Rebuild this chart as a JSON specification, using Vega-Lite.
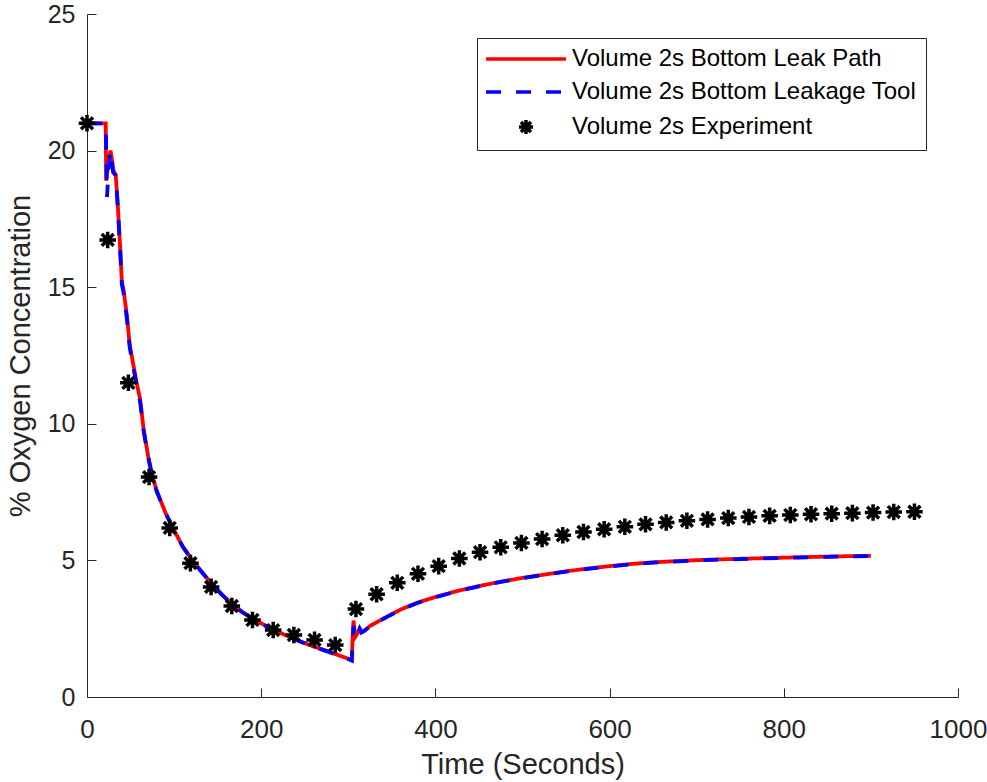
{
  "$schema": "https://vega.github.io/schema/vega-lite/v6.json",
  "width": 871,
  "height": 683,
  "autosize": {"type": "none"},
  "padding": {"left": 87, "top": 14, "right": 29, "bottom": 85},
  "config": {
    "view": {"stroke": null},
    "font": "Liberation Sans",
    "axis": {
      "grid": false,
      "domainColor": "#262626",
      "domainWidth": 1,
      "tickColor": "#262626",
      "tickWidth": 1,
      "tickSize": -9,
      "labelColor": "#262626",
      "labelFont": "Liberation Sans",
      "titleFont": "Liberation Sans",
      "titleFontSize": 29,
      "titleColor": "#262626",
      "titleFontWeight": "normal",
      "labelFlush": false,
      "labelOverlap": false
    },
    "legend": {
      "orient": "none",
      "legendX": 390,
      "legendY": 24,
      "title": null,
      "labelFontSize": 24,
      "labelFont": "Liberation Sans",
      "labelColor": "#000000",
      "fillColor": "#ffffff",
      "strokeColor": "#262626",
      "padding": 9,
      "rowPadding": 9,
      "symbolSize": 400,
      "symbolStrokeWidth": 3.5,
      "symbolOffset": 28,
      "labelOffset": 34,
      "labelLimit": 600
    }
  },
  "datasets": {
    "sim": [
      {"series": "Volume 2s Bottom Leak Path", "t": 0, "v": 21.0},
      {"series": "Volume 2s Bottom Leak Path", "t": 21.5, "v": 21.0},
      {"series": "Volume 2s Bottom Leak Path", "t": 22, "v": 18.9},
      {"series": "Volume 2s Bottom Leak Path", "t": 24, "v": 19.4},
      {"series": "Volume 2s Bottom Leak Path", "t": 27, "v": 20.0},
      {"series": "Volume 2s Bottom Leak Path", "t": 29, "v": 19.6},
      {"series": "Volume 2s Bottom Leak Path", "t": 30, "v": 19.3},
      {"series": "Volume 2s Bottom Leak Path", "t": 33, "v": 19.1},
      {"series": "Volume 2s Bottom Leak Path", "t": 35, "v": 18.2},
      {"series": "Volume 2s Bottom Leak Path", "t": 38, "v": 16.5},
      {"series": "Volume 2s Bottom Leak Path", "t": 40, "v": 15.2},
      {"series": "Volume 2s Bottom Leak Path", "t": 42, "v": 14.9},
      {"series": "Volume 2s Bottom Leak Path", "t": 46, "v": 13.9},
      {"series": "Volume 2s Bottom Leak Path", "t": 49, "v": 12.9},
      {"series": "Volume 2s Bottom Leak Path", "t": 53, "v": 12.2},
      {"series": "Volume 2s Bottom Leak Path", "t": 57, "v": 11.5},
      {"series": "Volume 2s Bottom Leak Path", "t": 61, "v": 10.9},
      {"series": "Volume 2s Bottom Leak Path", "t": 65, "v": 9.8},
      {"series": "Volume 2s Bottom Leak Path", "t": 70, "v": 8.85},
      {"series": "Volume 2s Bottom Leak Path", "t": 75, "v": 8.1},
      {"series": "Volume 2s Bottom Leak Path", "t": 80, "v": 7.55},
      {"series": "Volume 2s Bottom Leak Path", "t": 90, "v": 6.75},
      {"series": "Volume 2s Bottom Leak Path", "t": 100, "v": 6.1},
      {"series": "Volume 2s Bottom Leak Path", "t": 110, "v": 5.5},
      {"series": "Volume 2s Bottom Leak Path", "t": 120, "v": 5.05},
      {"series": "Volume 2s Bottom Leak Path", "t": 130, "v": 4.65},
      {"series": "Volume 2s Bottom Leak Path", "t": 143, "v": 4.15},
      {"series": "Volume 2s Bottom Leak Path", "t": 155, "v": 3.75},
      {"series": "Volume 2s Bottom Leak Path", "t": 166, "v": 3.42},
      {"series": "Volume 2s Bottom Leak Path", "t": 178, "v": 3.12},
      {"series": "Volume 2s Bottom Leak Path", "t": 190, "v": 2.87},
      {"series": "Volume 2s Bottom Leak Path", "t": 202, "v": 2.66},
      {"series": "Volume 2s Bottom Leak Path", "t": 214, "v": 2.47},
      {"series": "Volume 2s Bottom Leak Path", "t": 226, "v": 2.29},
      {"series": "Volume 2s Bottom Leak Path", "t": 241, "v": 2.09},
      {"series": "Volume 2s Bottom Leak Path", "t": 253, "v": 1.93},
      {"series": "Volume 2s Bottom Leak Path", "t": 262, "v": 1.83},
      {"series": "Volume 2s Bottom Leak Path", "t": 274, "v": 1.7},
      {"series": "Volume 2s Bottom Leak Path", "t": 285, "v": 1.57},
      {"series": "Volume 2s Bottom Leak Path", "t": 295, "v": 1.46},
      {"series": "Volume 2s Bottom Leak Path", "t": 304, "v": 1.35},
      {"series": "Volume 2s Bottom Leak Path", "t": 305, "v": 2.2},
      {"series": "Volume 2s Bottom Leak Path", "t": 306, "v": 2.8},
      {"series": "Volume 2s Bottom Leak Path", "t": 307, "v": 2.45},
      {"series": "Volume 2s Bottom Leak Path", "t": 308, "v": 2.2},
      {"series": "Volume 2s Bottom Leak Path", "t": 311, "v": 2.35},
      {"series": "Volume 2s Bottom Leak Path", "t": 313, "v": 2.5},
      {"series": "Volume 2s Bottom Leak Path", "t": 315, "v": 2.38},
      {"series": "Volume 2s Bottom Leak Path", "t": 318, "v": 2.42},
      {"series": "Volume 2s Bottom Leak Path", "t": 325, "v": 2.6},
      {"series": "Volume 2s Bottom Leak Path", "t": 335, "v": 2.78},
      {"series": "Volume 2s Bottom Leak Path", "t": 345, "v": 2.95},
      {"series": "Volume 2s Bottom Leak Path", "t": 360, "v": 3.2},
      {"series": "Volume 2s Bottom Leak Path", "t": 380, "v": 3.46},
      {"series": "Volume 2s Bottom Leak Path", "t": 400, "v": 3.66},
      {"series": "Volume 2s Bottom Leak Path", "t": 425, "v": 3.88},
      {"series": "Volume 2s Bottom Leak Path", "t": 450, "v": 4.06},
      {"series": "Volume 2s Bottom Leak Path", "t": 475, "v": 4.22},
      {"series": "Volume 2s Bottom Leak Path", "t": 500, "v": 4.36},
      {"series": "Volume 2s Bottom Leak Path", "t": 525, "v": 4.48},
      {"series": "Volume 2s Bottom Leak Path", "t": 550, "v": 4.6},
      {"series": "Volume 2s Bottom Leak Path", "t": 575, "v": 4.7},
      {"series": "Volume 2s Bottom Leak Path", "t": 600, "v": 4.79},
      {"series": "Volume 2s Bottom Leak Path", "t": 625, "v": 4.87},
      {"series": "Volume 2s Bottom Leak Path", "t": 650, "v": 4.93},
      {"series": "Volume 2s Bottom Leak Path", "t": 700, "v": 5.01},
      {"series": "Volume 2s Bottom Leak Path", "t": 750, "v": 5.06},
      {"series": "Volume 2s Bottom Leak Path", "t": 800, "v": 5.1},
      {"series": "Volume 2s Bottom Leak Path", "t": 850, "v": 5.14},
      {"series": "Volume 2s Bottom Leak Path", "t": 900, "v": 5.17},
      {"series": "Volume 2s Bottom Leakage Tool", "t": 0, "v": 21.0},
      {"series": "Volume 2s Bottom Leakage Tool", "t": 21.5, "v": 21.0},
      {"series": "Volume 2s Bottom Leakage Tool", "t": 23, "v": 18.3},
      {"series": "Volume 2s Bottom Leakage Tool", "t": 25, "v": 19.5},
      {"series": "Volume 2s Bottom Leakage Tool", "t": 27, "v": 20.0},
      {"series": "Volume 2s Bottom Leakage Tool", "t": 29, "v": 19.5},
      {"series": "Volume 2s Bottom Leakage Tool", "t": 30, "v": 19.2},
      {"series": "Volume 2s Bottom Leakage Tool", "t": 33, "v": 19.1},
      {"series": "Volume 2s Bottom Leakage Tool", "t": 35, "v": 18.1},
      {"series": "Volume 2s Bottom Leakage Tool", "t": 38, "v": 16.4},
      {"series": "Volume 2s Bottom Leakage Tool", "t": 40, "v": 15.1},
      {"series": "Volume 2s Bottom Leakage Tool", "t": 42, "v": 14.8},
      {"series": "Volume 2s Bottom Leakage Tool", "t": 46, "v": 13.8},
      {"series": "Volume 2s Bottom Leakage Tool", "t": 49, "v": 12.8},
      {"series": "Volume 2s Bottom Leakage Tool", "t": 53, "v": 12.1},
      {"series": "Volume 2s Bottom Leakage Tool", "t": 57, "v": 11.4},
      {"series": "Volume 2s Bottom Leakage Tool", "t": 61, "v": 10.8},
      {"series": "Volume 2s Bottom Leakage Tool", "t": 65, "v": 9.75},
      {"series": "Volume 2s Bottom Leakage Tool", "t": 70, "v": 8.8},
      {"series": "Volume 2s Bottom Leakage Tool", "t": 75, "v": 8.08},
      {"series": "Volume 2s Bottom Leakage Tool", "t": 80, "v": 7.53},
      {"series": "Volume 2s Bottom Leakage Tool", "t": 90, "v": 6.74},
      {"series": "Volume 2s Bottom Leakage Tool", "t": 100, "v": 6.09},
      {"series": "Volume 2s Bottom Leakage Tool", "t": 110, "v": 5.5},
      {"series": "Volume 2s Bottom Leakage Tool", "t": 120, "v": 5.04},
      {"series": "Volume 2s Bottom Leakage Tool", "t": 130, "v": 4.64},
      {"series": "Volume 2s Bottom Leakage Tool", "t": 143, "v": 4.14},
      {"series": "Volume 2s Bottom Leakage Tool", "t": 155, "v": 3.74},
      {"series": "Volume 2s Bottom Leakage Tool", "t": 166, "v": 3.41},
      {"series": "Volume 2s Bottom Leakage Tool", "t": 178, "v": 3.11},
      {"series": "Volume 2s Bottom Leakage Tool", "t": 190, "v": 2.86},
      {"series": "Volume 2s Bottom Leakage Tool", "t": 202, "v": 2.65},
      {"series": "Volume 2s Bottom Leakage Tool", "t": 214, "v": 2.46},
      {"series": "Volume 2s Bottom Leakage Tool", "t": 226, "v": 2.28},
      {"series": "Volume 2s Bottom Leakage Tool", "t": 241, "v": 2.08},
      {"series": "Volume 2s Bottom Leakage Tool", "t": 253, "v": 1.92},
      {"series": "Volume 2s Bottom Leakage Tool", "t": 262, "v": 1.82},
      {"series": "Volume 2s Bottom Leakage Tool", "t": 274, "v": 1.69},
      {"series": "Volume 2s Bottom Leakage Tool", "t": 285, "v": 1.56},
      {"series": "Volume 2s Bottom Leakage Tool", "t": 295, "v": 1.45},
      {"series": "Volume 2s Bottom Leakage Tool", "t": 304, "v": 1.33},
      {"series": "Volume 2s Bottom Leakage Tool", "t": 305, "v": 2.1},
      {"series": "Volume 2s Bottom Leakage Tool", "t": 306, "v": 2.6},
      {"series": "Volume 2s Bottom Leakage Tool", "t": 307, "v": 2.3},
      {"series": "Volume 2s Bottom Leakage Tool", "t": 308, "v": 2.15},
      {"series": "Volume 2s Bottom Leakage Tool", "t": 311, "v": 2.35},
      {"series": "Volume 2s Bottom Leakage Tool", "t": 313, "v": 2.5},
      {"series": "Volume 2s Bottom Leakage Tool", "t": 315, "v": 2.36},
      {"series": "Volume 2s Bottom Leakage Tool", "t": 318, "v": 2.41},
      {"series": "Volume 2s Bottom Leakage Tool", "t": 325, "v": 2.58},
      {"series": "Volume 2s Bottom Leakage Tool", "t": 335, "v": 2.77},
      {"series": "Volume 2s Bottom Leakage Tool", "t": 345, "v": 2.94},
      {"series": "Volume 2s Bottom Leakage Tool", "t": 360, "v": 3.19},
      {"series": "Volume 2s Bottom Leakage Tool", "t": 380, "v": 3.45},
      {"series": "Volume 2s Bottom Leakage Tool", "t": 400, "v": 3.65},
      {"series": "Volume 2s Bottom Leakage Tool", "t": 425, "v": 3.87},
      {"series": "Volume 2s Bottom Leakage Tool", "t": 450, "v": 4.05},
      {"series": "Volume 2s Bottom Leakage Tool", "t": 475, "v": 4.21},
      {"series": "Volume 2s Bottom Leakage Tool", "t": 500, "v": 4.35},
      {"series": "Volume 2s Bottom Leakage Tool", "t": 525, "v": 4.47},
      {"series": "Volume 2s Bottom Leakage Tool", "t": 550, "v": 4.59},
      {"series": "Volume 2s Bottom Leakage Tool", "t": 575, "v": 4.69},
      {"series": "Volume 2s Bottom Leakage Tool", "t": 600, "v": 4.78},
      {"series": "Volume 2s Bottom Leakage Tool", "t": 625, "v": 4.86},
      {"series": "Volume 2s Bottom Leakage Tool", "t": 650, "v": 4.92},
      {"series": "Volume 2s Bottom Leakage Tool", "t": 700, "v": 5.0},
      {"series": "Volume 2s Bottom Leakage Tool", "t": 750, "v": 5.05},
      {"series": "Volume 2s Bottom Leakage Tool", "t": 800, "v": 5.09},
      {"series": "Volume 2s Bottom Leakage Tool", "t": 850, "v": 5.13},
      {"series": "Volume 2s Bottom Leakage Tool", "t": 900, "v": 5.16}
    ],
    "exp": [
      {"series": "Volume 2s Experiment", "t": 0, "v": 21.0},
      {"series": "Volume 2s Experiment", "t": 23.75, "v": 16.73},
      {"series": "Volume 2s Experiment", "t": 47.5, "v": 11.5},
      {"series": "Volume 2s Experiment", "t": 71.25, "v": 8.05},
      {"series": "Volume 2s Experiment", "t": 95, "v": 6.19},
      {"series": "Volume 2s Experiment", "t": 118.75, "v": 4.9},
      {"series": "Volume 2s Experiment", "t": 142.5, "v": 4.03},
      {"series": "Volume 2s Experiment", "t": 166.25, "v": 3.33},
      {"series": "Volume 2s Experiment", "t": 190, "v": 2.82},
      {"series": "Volume 2s Experiment", "t": 213.75, "v": 2.45},
      {"series": "Volume 2s Experiment", "t": 237.5, "v": 2.27},
      {"series": "Volume 2s Experiment", "t": 261.25, "v": 2.09},
      {"series": "Volume 2s Experiment", "t": 285, "v": 1.9},
      {"series": "Volume 2s Experiment", "t": 308.75, "v": 3.22},
      {"series": "Volume 2s Experiment", "t": 332.5, "v": 3.76},
      {"series": "Volume 2s Experiment", "t": 356.25, "v": 4.18},
      {"series": "Volume 2s Experiment", "t": 380, "v": 4.51},
      {"series": "Volume 2s Experiment", "t": 403.75, "v": 4.79},
      {"series": "Volume 2s Experiment", "t": 427.5, "v": 5.07},
      {"series": "Volume 2s Experiment", "t": 451.25, "v": 5.3},
      {"series": "Volume 2s Experiment", "t": 475, "v": 5.48},
      {"series": "Volume 2s Experiment", "t": 498.75, "v": 5.64},
      {"series": "Volume 2s Experiment", "t": 522.5, "v": 5.78},
      {"series": "Volume 2s Experiment", "t": 546.25, "v": 5.92},
      {"series": "Volume 2s Experiment", "t": 570, "v": 6.04},
      {"series": "Volume 2s Experiment", "t": 593.75, "v": 6.14},
      {"series": "Volume 2s Experiment", "t": 617.5, "v": 6.23},
      {"series": "Volume 2s Experiment", "t": 641.25, "v": 6.32},
      {"series": "Volume 2s Experiment", "t": 665, "v": 6.39},
      {"series": "Volume 2s Experiment", "t": 688.75, "v": 6.45},
      {"series": "Volume 2s Experiment", "t": 712.5, "v": 6.5},
      {"series": "Volume 2s Experiment", "t": 736.25, "v": 6.55},
      {"series": "Volume 2s Experiment", "t": 760, "v": 6.59},
      {"series": "Volume 2s Experiment", "t": 783.75, "v": 6.63},
      {"series": "Volume 2s Experiment", "t": 807.5, "v": 6.66},
      {"series": "Volume 2s Experiment", "t": 831.25, "v": 6.69},
      {"series": "Volume 2s Experiment", "t": 855, "v": 6.71},
      {"series": "Volume 2s Experiment", "t": 878.75, "v": 6.73},
      {"series": "Volume 2s Experiment", "t": 902.5, "v": 6.75},
      {"series": "Volume 2s Experiment", "t": 926.25, "v": 6.77},
      {"series": "Volume 2s Experiment", "t": 950, "v": 6.78}
    ]
  },
  "encoding": {
    "x": {
      "field": "t", "type": "quantitative",
      "scale": {"domain": [0, 1000], "nice": false, "zero": false},
      "axis": {"title": "Time (Seconds)", "values": [0, 200, 400, 600, 800, 1000], "format": "d", "labelFontSize": 26, "labelPadding": 28, "titlePadding": 8}
    },
    "y": {
      "field": "v", "type": "quantitative",
      "scale": {"domain": [0, 25], "nice": false},
      "axis": {"title": "% Oxygen Concentration", "values": [0, 5, 10, 15, 20, 25], "format": "d", "labelFontSize": 25, "labelPadding": 21, "titlePadding": 12}
    },
    "color": {
      "field": "series", "type": "nominal",
      "scale": {
        "domain": ["Volume 2s Bottom Leak Path", "Volume 2s Bottom Leakage Tool", "Volume 2s Experiment"],
        "range": ["#ff0000", "#0000ff", "#000000"]
      }
    }
  },
  "layer": [
    {
      "data": {"name": "sim"},
      "mark": {"type": "line", "strokeWidth": 3.8},
      "encoding": {
        "strokeDash": {
          "field": "series", "type": "nominal",
          "scale": {
            "domain": ["Volume 2s Bottom Leak Path", "Volume 2s Bottom Leakage Tool", "Volume 2s Experiment"],
            "range": [[1, 0], [15, 15], [1, 0]]
          }
        }
      }
    },
    {
      "data": {"name": "exp"},
      "mark": {"type": "point", "filled": false, "strokeWidth": 3.5, "size": 560, "opacity": 1},
      "encoding": {
        "shape": {
          "field": "series", "type": "nominal",
          "scale": {
            "domain": ["Volume 2s Bottom Leak Path", "Volume 2s Bottom Leakage Tool", "Volume 2s Experiment"],
            "range": ["M-4,0L4,0", "M-4,0L4,0", "M0,-0.7L0,0.7M-0.7,0L0.7,0M-0.5,-0.5L0.5,0.5M-0.5,0.5L0.5,-0.5"]
          }
        }
      }
    }
  ]
}
